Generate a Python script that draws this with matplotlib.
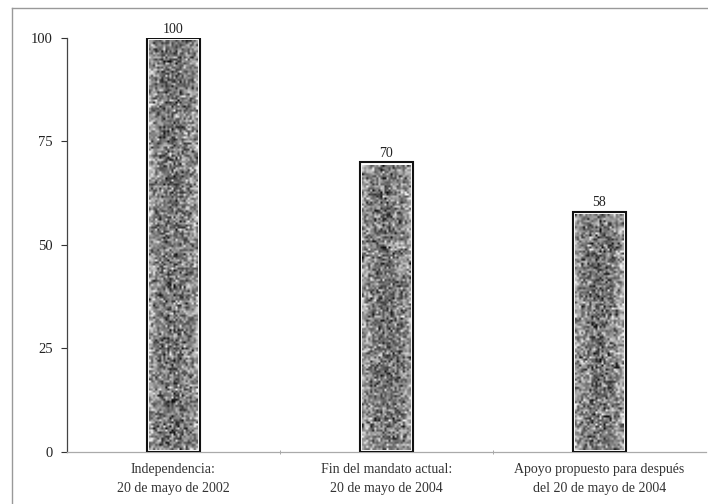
import matplotlib
matplotlib.use("Agg")
import matplotlib.pyplot as plt
import numpy as np

categories = [
    "Independencia:\n20 de mayo de 2002",
    "Fin del mandato actual:\n20 de mayo de 2004",
    "Apoyo propuesto para después\ndel 20 de mayo de 2004",
]
values = [100, 70, 58]
yticks = [0, 25, 50, 75, 100]

plt.rcParams["font.family"] = ["Liberation Serif", "DejaVu Serif"]

fig = plt.figure(figsize=(7.08, 5.04), dpi=100)
ax = fig.add_axes([0.0946, 0.1032, 0.9024, 0.8214])

x = np.arange(len(values))
bars = ax.bar(x, values, width=0.25, facecolor="white", edgecolor="#111111",
              linewidth=1.5, zorder=3)

# speckled grey fill inside each bar, a touch inset from the border
rng = np.random.default_rng(7)
for b, v in zip(bars, values):
    x0, w, h = b.get_x(), b.get_width(), b.get_height()
    nrow, ncol = int(h * 2.0), 24
    tex = rng.normal(0.5, 0.2, size=(nrow, ncol))
    # darker band down the middle, lighter near the sides
    cols = np.linspace(-1, 1, ncol)
    tex += 0.18 * np.abs(cols) ** 2 - 0.05
    tex = np.clip(tex, 0.05, 0.97)
    inset = w * 0.04
    ax.imshow(tex, cmap="gray", vmin=0, vmax=1,
              extent=(x0 + inset, x0 + w - inset, 0.6, h - 0.6),
              aspect="auto", interpolation="bilinear", zorder=4)
    ax.text(x0 + w / 2, h + 0.6, f"{v}", ha="center", va="bottom",
            fontsize=10, color="#222222")

ax.set_xlim(-0.5, len(values) - 0.5)
ax.set_ylim(0, 100)
ax.set_yticks(yticks)
ax.set_xticks(x)
ax.set_xticklabels(categories, fontsize=10, color="#333333", linespacing=1.6)
ax.set_xticks([0.5, 1.5], minor=True)
ax.tick_params(axis="x", which="major", length=0, pad=8)
ax.tick_params(axis="x", which="minor", length=3, color="#999999", direction="inout")
ax.tick_params(axis="y", length=4, width=0.8, labelsize=10.5, color="#333333",
               labelcolor="#222222", pad=6)

for side in ["top", "right"]:
    ax.spines[side].set_visible(False)
ax.spines["left"].set_color("#444444")
ax.spines["left"].set_linewidth(0.9)
ax.spines["bottom"].set_color("#aaaaaa")
ax.spines["bottom"].set_linewidth(0.9)

# outer frame line along top and left
fig.add_artist(plt.Line2D([0.017, 1.0], [0.984, 0.984], color="#999999", lw=1.0))
fig.add_artist(plt.Line2D([0.017, 0.017], [0.0, 0.984], color="#999999", lw=1.0))

fig.savefig("out.png", dpi=100)
